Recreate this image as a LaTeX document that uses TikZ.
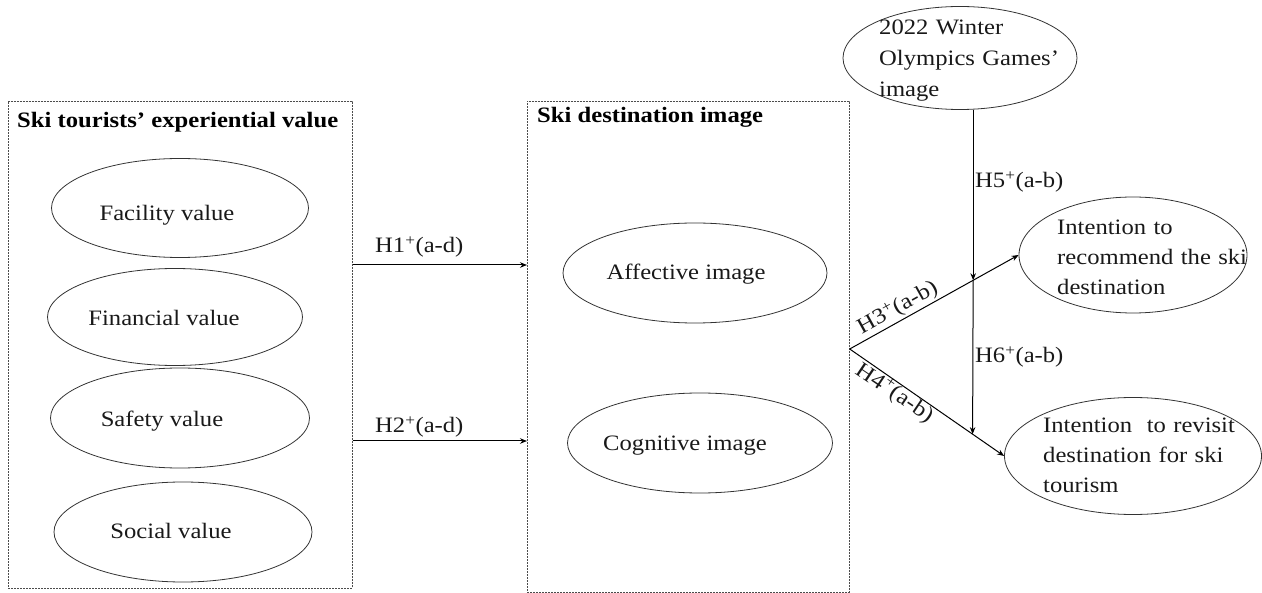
\documentclass[tikz,border=0pt]{standalone}
\usepackage{fontspec}
\setmainfont{Liberation Serif}[FakeStretch=1.12]
\usetikzlibrary{shapes.geometric,arrows.meta,calc}
\begin{document}
\begin{tikzpicture}[x=1pt,y=-1pt,
  txt/.style={font=\fontsize{22}{30}\selectfont,inner sep=0pt,text=black!90},
  title/.style={font=\fontsize{22}{30}\selectfont\bfseries,inner sep=0pt,anchor=base west},
  oval/.style={draw=black!80,line width=0.8pt,ellipse,inner sep=0pt},
  grp/.style={draw=black!70,line width=0.7pt,dash pattern=on 2pt off 1pt,inner sep=0pt,anchor=north west},
  arr/.style={draw=black,line width=1pt,-{Stealth[length=7pt,width=5.5pt]}},
  multi/.style={txt,anchor=base west,align=left,text width=#1},
]
\useasboundingbox (0,0) rectangle (1262,593);

% group frames
\node[grp,minimum width=344pt,minimum height=487pt] (lb) at (8,101) {};
\node[grp,minimum width=322pt,minimum height=491pt] (mb) at (527,101) {};
\node[title] (lbt) at (17,128) {Ski tourists’ experiential value};
\node[title] (mbt) at (537,123) {Ski destination image};

% experiential value dimensions
\node[oval,minimum width=257pt,minimum height=99pt] (fac) at (180,208) {};
\node[txt,anchor=base] (facT) at (167,221) {Facility value};
\node[oval,minimum width=255pt,minimum height=97pt] (fin) at (175,317) {};
\node[txt,anchor=base] (finT) at (164,326) {Financial value};
\node[oval,minimum width=259pt,minimum height=100pt] (saf) at (180,418) {};
\node[txt,anchor=base] (safT) at (162,427) {Safety value};
\node[oval,minimum width=258pt,minimum height=100pt] (soc) at (183,532) {};
\node[txt,anchor=base] (socT) at (171,539) {Social value};

% destination image dimensions
\node[oval,minimum width=264pt,minimum height=100pt] (aff) at (695,273) {};
\node[txt,anchor=base] (affT) at (686,280) {Affective image};
\node[oval,minimum width=265pt,minimum height=100pt] (cog) at (700,443) {};
\node[txt,anchor=base] (cogT) at (685,451) {Cognitive image};

% moderator and outcomes
\node[oval,minimum width=234pt,minimum height=103pt] (oly) at (960,58) {};
\node[multi=200pt,font=\fontsize{22}{31}\selectfont] (olyT) at (879,35) {2022 Winter\\Olympics Games’\\image};
\node[oval,minimum width=228pt,minimum height=116pt] (rec) at (1133,255) {};
\node[multi=200pt] (recT) at (1057,235) {Intention to\\recommend the ski\\destination};
\node[oval,minimum width=257pt,minimum height=117pt] (rev) at (1133,456) {};
\node[multi=200pt] (revT) at (1043,433) {Intention~ to revisit\\destination for ski\\tourism};

% H1, H2
\draw[arr] (lb.east |- 0,265) -- (mb.west |- 0,265);
\node[txt,anchor=base west] (h1) at (375,253) {H1\textsuperscript{+}(a-d)};
\draw[arr] (lb.east |- 0,441) -- (mb.west |- 0,441);
\node[txt,anchor=base west] (h2) at (375,433) {H2\textsuperscript{+}(a-d)};

% H3, H4 from the destination image frame
\coordinate (o) at (mb.east |- 0,349);
\draw[arr] (o) -- (rec.west);
\draw[arr] (o) -- (rev.west);
\coordinate (m1) at ($(o)!0.731!(rec.west)$);
\coordinate (m2) at ($(o)!0.796!(rev.west)$);
\node[txt,rotate=29,anchor=south,inner sep=2pt] (h3) at ($(o)!0.32!(rec.west)$) {H3\textsuperscript{+}(a-b)};
\node[txt,rotate=-34,anchor=north,inner sep=0pt] (h4) at ($(o)!0.33!(rev.west)$) {H4\textsuperscript{+}(a-b)};

% H5, H6 moderation
\draw[arr] (m1 |- oly.south) -- (m1);
\draw[arr] (m1) -- (m2);
\node[txt,anchor=base west] (h5) at (975,188) {H5\textsuperscript{+}(a-b)};
\node[txt,anchor=base west] (h6) at (975,363) {H6\textsuperscript{+}(a-b)};
\end{tikzpicture}
\end{document}
